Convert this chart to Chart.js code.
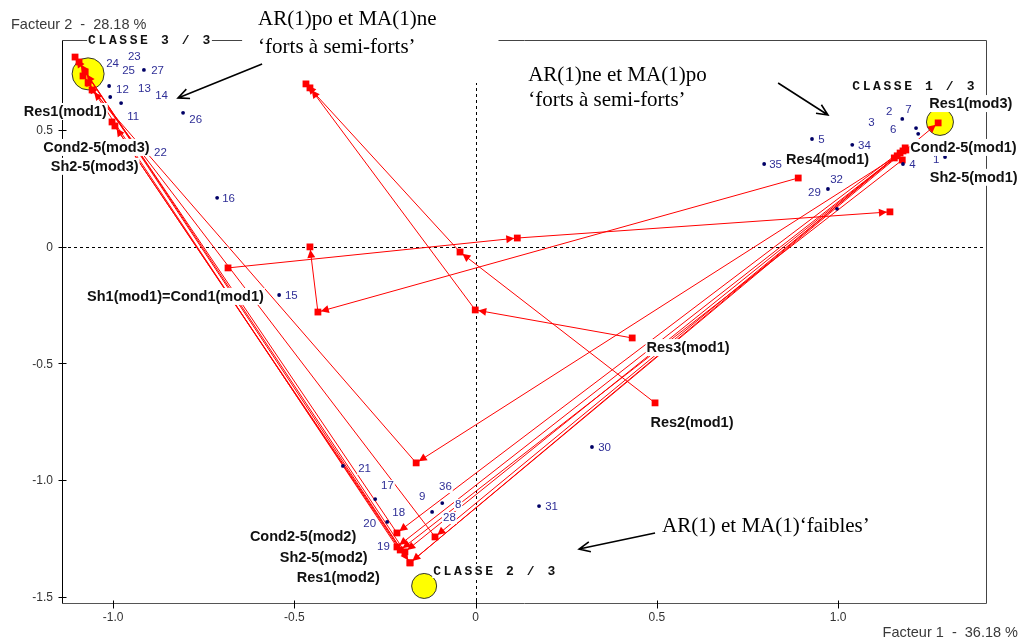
<!DOCTYPE html>
<html>
<head>
<meta charset="utf-8">
<script src="https://cdn.jsdelivr.net/npm/chart.js@4/dist/chart.umd.min.js"></script>
<style>
  html, body { margin: 0; padding: 0; background: #fff; }
  #wrap { position: relative; width: 1026px; height: 640px; }
</style>
</head>
<body>
<div id="wrap"><canvas id="c" width="1026" height="640"></canvas></div>
<script>
// ---- Axes (plan factoriel 1 x 2) ----
const axeX = { min: -1.141, max: 1.408 };
const axeY = { min: -1.526, max: 0.885 };
const ticksX = [-1.0, -0.5, 0, 0.5, 1.0];
const ticksY = [0.5, 0, -0.5, -1.0, -1.5];
const tickLabelsX = ['-1.0', '-0.5', '0', '0.5', '1.0'];
const tickLabelsY = ['0.5', '0', '-0.5', '-1.0', '-1.5'];
const titreX = 'Facteur 1  -  36.18 %';
const titreY = 'Facteur 2  -  28.18 %';

// ---- Centres de classes ----
const classesNoms = ['CLASSE 3 / 3', 'CLASSE 1 / 3', 'CLASSE 2 / 3'];
const classesCentres = [[-1.069, 0.740], [1.281, 0.534], [-0.142, -1.453]];
const classesEtiquettes = [[-1.069, 0.885], [1.039, 0.688], [-0.117, -1.389]];

// ---- Trajectoires des modalités (mod1 -> mod2 -> mod3) ----
const trajCond2 = [[1.185, 0.423], [-0.217, -1.226], [-1.105, 0.812]];
const trajCond3 = [[1.179, 0.410], [-0.195, -1.307], [-1.094, 0.791]];
const trajCond4 = [[1.171, 0.401], [-0.181, -1.354], [-1.077, 0.748]];
const trajCond5 = [[1.163, 0.389], [-0.112, -1.243], [-1.083, 0.731]];
const trajSh2   = [[1.188, 0.414], [-0.164, -0.926], [-1.058, 0.671]];
const trajSh3   = [[1.155, 0.380], [-0.217, -1.286], [-1.069, 0.701]];
const trajSh4   = [[1.177, 0.371], [-0.208, -1.299], [-0.995, 0.517]];
const trajRes1  = [[-1.003, 0.534], [-0.181, -1.354], [1.276, 0.530]];
const trajRes2  = [[0.495, -0.669], [-0.043, -0.023], [-0.468, 0.697]];
const trajRes3  = [[0.432, -0.391], [-0.001, -0.271], [-0.457, 0.680]];
const trajRes4  = [[0.890, 0.294], [-0.435, -0.280], [-0.457, -0.001]];
const trajSh1Cond1 = [[-0.683, -0.091], [0.115, 0.037], [1.143, 0.149]];
const trajectoires = [trajCond2, trajCond3, trajCond4, trajCond5, trajSh2, trajSh3,
                      trajSh4, trajRes1, trajRes2, trajRes3, trajRes4, trajSh1Cond1];

// ---- Libellés des modalités [texte, x, y] (centre du texte) ----
const modalitesLibelles = [
  ['Res1(mod1)', -1.132, 0.581],
  ['Cond2-5(mod3)', -1.046, 0.427],
  ['Sh2-5(mod3)', -1.051, 0.346],
  ['Sh1(mod1)=Cond1(mod1)', -0.828, -0.211],
  ['Res4(mod1)', 0.971, 0.376],
  ['Res1(mod3)', 1.366, 0.615],
  ['Cond2-5(mod1)', 1.346, 0.427],
  ['Sh2-5(mod1)', 1.374, 0.299],
  ['Res3(mod1)', 0.586, -0.430],
  ['Res2(mod1)', 0.597, -0.751],
  ['Cond2-5(mod2)', -0.476, -1.239],
  ['Sh2-5(mod2)', -0.419, -1.329],
  ['Res1(mod2)', -0.379, -1.415]
];

// ---- Individus : points visibles et numéros ----
const individusPoints = [
  [-0.915, 0.757], [-1.011, 0.688], [-1.008, 0.641], [-0.978, 0.615], [-0.807, 0.573],
  [-0.713, 0.209], [-0.542, -0.207], [-0.366, -0.939], [-0.277, -1.081], [-0.244, -1.179],
  [-0.120, -1.136], [-0.092, -1.098], [0.321, -0.858], [0.175, -1.111], [0.928, 0.461],
  [1.039, 0.436], [0.796, 0.354], [1.179, 0.354], [1.295, 0.384], [0.972, 0.247],
  [0.997, 0.162], [1.177, 0.547], [1.215, 0.508], [1.221, 0.483]
];
const individusNumeros = [
  ['23', -0.959, 0.812], ['24', -1.019, 0.782], ['25', -0.975, 0.753], ['27', -0.895, 0.753],
  ['12', -0.992, 0.671], ['13', -0.931, 0.675], ['14', -0.884, 0.645], ['11', -0.961, 0.556],
  ['26', -0.790, 0.543], ['22', -0.887, 0.401], ['16', -0.699, 0.204], ['15', -0.526, -0.211],
  ['21', -0.324, -0.952], ['17', -0.261, -1.025], ['9', -0.156, -1.072], ['36', -0.101, -1.029],
  ['8', -0.057, -1.106], ['18', -0.230, -1.141], ['28', -0.090, -1.162], ['20', -0.310, -1.188],
  ['19', -0.272, -1.286], ['30', 0.338, -0.862], ['31', 0.192, -1.115],
  ['2', 1.132, 0.577], ['7', 1.185, 0.585], ['3', 1.083, 0.530], ['6', 1.143, 0.500],
  ['5', 0.945, 0.457], ['34', 1.055, 0.431], ['35', 0.810, 0.350], ['4', 1.196, 0.350],
  ['1', 1.262, 0.371], ['32', 0.978, 0.286], ['29', 0.917, 0.230]
];

// ---- Commentaires et flèches ----
const commentaires = [
  { lignes: ['AR(1)po et MA(1)ne', '\u2018forts \u00e0 semi-forts\u2019'], x: -0.600, y: [0.971, 0.855] },
  { lignes: ['AR(1)ne et MA(1)po', '\u2018forts \u00e0 semi-forts\u2019'], x: 0.145, y: [0.735, 0.624] },
  { lignes: ['AR(1) et MA(1)\u2018faibles\u2019'], x: 0.5145, y: [-1.200] }
];
const fleches = [
  [[-0.589, 0.782], [-0.821, 0.637]],
  [[0.8345, 0.701], [0.972, 0.564]],
  [[0.495, -1.226], [0.2855, -1.295]]
];

const ROUGE = '#ff0000';
const SANS = '"Liberation Sans", Arial, sans-serif';

function fondTexte(ctx, txt, x, y, align, haut, bas, marge) {
  const w = ctx.measureText(txt).width;
  let left = x;
  if (align === 'center') left = x - w / 2;
  else if (align === 'right') left = x - w;
  ctx.save();
  ctx.fillStyle = '#fff';
  ctx.fillRect(left - marge, y - haut, w + 2 * marge, haut + bas);
  ctx.restore();
}

function pointe(ctx, x0, y0, x1, y1, recul, long, demi) {
  const dx = x1 - x0, dy = y1 - y0, L = Math.hypot(dx, dy);
  const ux = dx / L, uy = dy / L;
  const tx = x1 - ux * recul, ty = y1 - uy * recul;
  const bx = tx - ux * long, by = ty - uy * long;
  ctx.beginPath();
  ctx.moveTo(tx, ty);
  ctx.lineTo(bx - uy * demi, by + ux * demi);
  ctx.lineTo(bx + uy * demi, by - ux * demi);
  ctx.closePath();
  ctx.fill();
}

const decor = {
  id: 'decor',
  beforeDatasetsDraw(chart) {
    const { ctx, chartArea: a, scales: { x, y } } = chart;
    ctx.save();
    // axes en pointillés
    const x0 = Math.round(x.getPixelForValue(0)) + 0.5;
    const y0 = Math.round(y.getPixelForValue(0)) + 0.5;
    ctx.strokeStyle = '#000';
    ctx.lineWidth = 1;
    ctx.setLineDash([3, 3]);
    ctx.beginPath();
    ctx.moveTo(a.left, y0); ctx.lineTo(a.right, y0);
    ctx.moveTo(x0, a.top); ctx.lineTo(x0, a.bottom);
    ctx.stroke();
    ctx.setLineDash([]);
    // cadre
    const L = Math.round(a.left) + 0.5, R = Math.round(a.right) + 0.5;
    const T = Math.round(a.top) + 0.5, B = Math.round(a.bottom) + 0.5;
    ctx.strokeStyle = '#444';
    ctx.beginPath();
    ctx.moveTo(L, T); ctx.lineTo(R, T); ctx.lineTo(R, B);
    ctx.stroke();
    ctx.strokeStyle = '#555';
    ctx.beginPath(); ctx.moveTo(L, B); ctx.lineTo(R, B); ctx.stroke();
    ctx.strokeStyle = '#000';
    ctx.beginPath(); ctx.moveTo(L, T); ctx.lineTo(L, B); ctx.stroke();
    // graduations
    ctx.strokeStyle = '#000';
    ticksY.forEach(v => {
      const py = Math.round(y.getPixelForValue(v)) + 0.5;
      ctx.beginPath(); ctx.moveTo(L - 4, py); ctx.lineTo(L + 4, py); ctx.stroke();
    });
    ticksX.forEach(v => {
      const px = Math.round(x.getPixelForValue(v)) + 0.5;
      ctx.beginPath(); ctx.moveTo(px, B - 3); ctx.lineTo(px, B + 5); ctx.stroke();
    });
    // zone blanche du premier commentaire
    const c = commentaires[0];
    const cx = x.getPixelForValue(c.x), cy2 = y.getPixelForValue(c.y[1]);
    ctx.fillStyle = '#fff';
    ctx.fillRect(cx - 16, 0, x0 + 22 - (cx - 16), cy2 + 36);
    ctx.restore();
  },
  afterDatasetsDraw(chart) {
    const { ctx, chartArea: a, scales: { x, y } } = chart;
    ctx.save();
    // pointes de flèches des trajectoires
    ctx.fillStyle = ROUGE;
    trajectoires.forEach(t => {
      for (let i = 1; i < t.length; i++) {
        pointe(ctx, x.getPixelForValue(t[i - 1][0]), y.getPixelForValue(t[i - 1][1]),
               x.getPixelForValue(t[i][0]), y.getPixelForValue(t[i][1]), 3, 8, 4);
      }
    });
    // numéros des individus
    ctx.font = '11.5px ' + SANS;
    ctx.textBaseline = 'middle';
    ctx.textAlign = 'left';
    individusNumeros.forEach(([t, vx, vy]) => {
      const px = x.getPixelForValue(vx), py = y.getPixelForValue(vy);
      fondTexte(ctx, t, px, py, 'left', 6, 6, 1);
      ctx.fillStyle = '#2e2e96';
      ctx.fillText(t, px, py);
    });
    // libellés des modalités
    ctx.font = 'bold 14.5px ' + SANS;
    ctx.textAlign = 'center';
    modalitesLibelles.forEach(([t, vx, vy]) => {
      const px = x.getPixelForValue(vx), py = y.getPixelForValue(vy);
      fondTexte(ctx, t, px, py, 'center', 8, 9, 1);
      ctx.fillStyle = '#111';
      ctx.fillText(t, px, py + 1);
    });
    // noms des classes
    ctx.font = 'bold 13px "Liberation Mono", "Courier New", monospace';
    ctx.textAlign = 'left';
    const pas = 10.4;
    classesNoms.forEach((nom, k) => {
      const px = x.getPixelForValue(classesEtiquettes[k][0]);
      const py = y.getPixelForValue(classesEtiquettes[k][1]);
      ctx.fillStyle = '#fff';
      ctx.fillRect(px - 1, py - 7, nom.length * pas, 14);
      ctx.fillStyle = '#111';
      for (let i = 0; i < nom.length; i++) ctx.fillText(nom[i], px + i * pas, py + 1);
    });
    // commentaires
    ctx.font = '21px "Liberation Serif", "Times New Roman", serif';
    ctx.fillStyle = '#000';
    commentaires.forEach(c => {
      const px = x.getPixelForValue(c.x);
      c.lignes.forEach((l, i) => ctx.fillText(l, px, y.getPixelForValue(c.y[i])));
    });
    // flèches noires
    ctx.strokeStyle = '#000';
    ctx.lineWidth = 1.6;
    fleches.forEach(([p0, p1]) => {
      const x0 = x.getPixelForValue(p0[0]), y0 = y.getPixelForValue(p0[1]);
      const x1 = x.getPixelForValue(p1[0]), y1 = y.getPixelForValue(p1[1]);
      const L = Math.hypot(x1 - x0, y1 - y0), ux = (x1 - x0) / L, uy = (y1 - y0) / L;
      ctx.beginPath();
      ctx.moveTo(x0, y0); ctx.lineTo(x1, y1);
      ctx.moveTo(x1 - ux * 11 - uy * 5, y1 - uy * 11 + ux * 5); ctx.lineTo(x1, y1);
      ctx.lineTo(x1 - ux * 11 + uy * 5, y1 - uy * 11 - ux * 5);
      ctx.stroke();
    });
    // étiquettes des graduations
    ctx.font = '12px ' + SANS;
    ctx.fillStyle = '#333';
    ctx.textAlign = 'right';
    ticksY.forEach((v, i) => ctx.fillText(tickLabelsY[i], a.left - 9, y.getPixelForValue(v) + 1));
    ctx.textAlign = 'center';
    ticksX.forEach((v, i) => ctx.fillText(tickLabelsX[i], x.getPixelForValue(v), a.bottom + 15));
    // titres des axes
    ctx.font = '14.5px ' + SANS;
    ctx.fillStyle = '#3a3a3a';
    ctx.textAlign = 'left';
    ctx.fillText(titreY, 11, 25);
    ctx.textAlign = 'right';
    ctx.fillText(titreX, 1018, a.bottom + 30);
    ctx.restore();
  }
};

const datasets = [];
datasets.push({
  data: classesCentres.map(([vx, vy]) => ({ x: vx, y: vy })),
  pointRadius: [16, 13.5, 12.5],
  pointBackgroundColor: '#ffff00',
  pointBorderColor: '#333',
  pointBorderWidth: 1,
  order: 3
});
trajectoires.forEach(t => datasets.push({
  data: t.map(([vx, vy]) => ({ x: vx, y: vy })),
  showLine: true,
  borderColor: ROUGE,
  borderWidth: 1,
  pointStyle: 'rect',
  pointRadius: 4.8,
  pointBackgroundColor: ROUGE,
  pointBorderWidth: 0,
  order: 2
}));
datasets.push({
  data: individusPoints.map(([vx, vy]) => ({ x: vx, y: vy })),
  pointRadius: 1.9,
  pointBackgroundColor: '#000066',
  pointBorderWidth: 0,
  order: 1
});

new Chart(document.getElementById('c'), {
  type: 'scatter',
  data: { datasets },
  options: {
    responsive: false,
    animation: false,
    devicePixelRatio: 1,
    events: [],
    clip: false,
    layout: { padding: { left: 62, top: 40, right: 40, bottom: 37 } },
    scales: {
      x: { type: 'linear', min: axeX.min, max: axeX.max, display: false },
      y: { type: 'linear', min: axeY.min, max: axeY.max, display: false }
    },
    plugins: { legend: { display: false }, tooltip: { enabled: false } }
  },
  plugins: [decor]
});
</script>
</body>
</html>
